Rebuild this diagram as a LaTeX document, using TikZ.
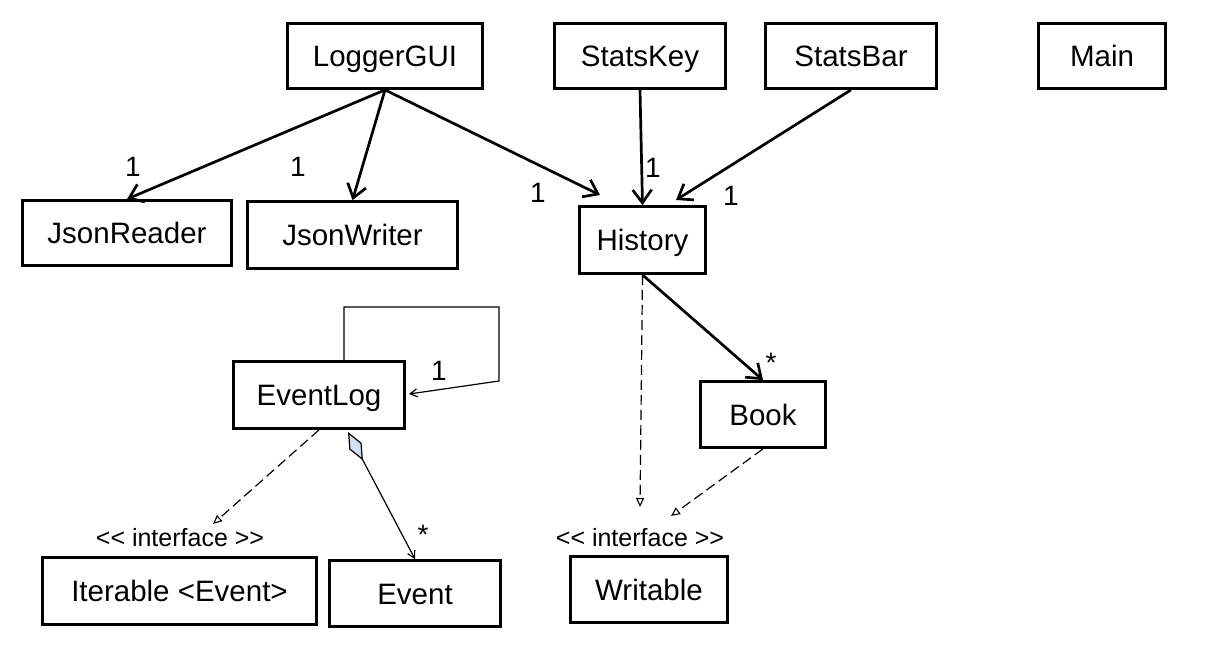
\documentclass[tikz,border=0pt]{standalone}
\usepackage{fontspec}
\setmainfont{Liberation Sans}
\usetikzlibrary{arrows.meta}
\definecolor{dblue}{RGB}{211,224,241}
\tikzset{
  cls/.style={draw, rectangle, line width=2.8pt, inner sep=0pt,
    text height=21pt, text depth=0pt, font=\fontsize{29.5}{30}\selectfont},
  lab/.style={anchor=base, inner sep=0pt, font=\fontsize{28}{28}\selectfont},
  stereo/.style={anchor=base, inner sep=0pt, font=\fontsize{25}{25}\selectfont},
  assoc/.style={line width=2.7pt, -{Straight Barb[length=13pt,width=19pt]}},
  realize/.style={line width=1.2pt, dash pattern=on 10pt off 5pt,
    -{Triangle[open,length=9pt,width=8pt,line width=1.1pt]}},
  thinarrow/.style={line width=1.2pt, -{Straight Barb[length=7pt,width=8pt]}},
  comp/.style={line width=1.2pt,
    {Diamond[fill=dblue,length=32pt,width=14pt]}-{Straight Barb[length=7pt,width=8pt]}}
}
\begin{document}
\begin{tikzpicture}[x=1pt,y=-1pt]
\useasboundingbox (0,0) rectangle (1208,666);
\fill[white] (0,0) rectangle (1208,666);

% class boxes
\node[cls, minimum width=195pt, minimum height=65pt] (LG) at (385,56) {LoggerGUI};
\node[cls, minimum width=171pt, minimum height=65pt] (SK) at (640,56) {StatsKey};
\node[cls, minimum width=171pt, minimum height=65pt] (SB) at (851,56) {StatsBar};
\node[cls, minimum width=127pt, minimum height=65pt] (MN) at (1102,56) {Main};
\node[cls, minimum width=209pt, minimum height=65pt] (JR) at (127,233) {JsonReader};
\node[cls, minimum width=210pt, minimum height=67pt] (JW) at (352.5,235) {JsonWriter};
\node[cls, minimum width=126pt, minimum height=67pt] (H) at (642.5,240) {History};
\node[cls, minimum width=171pt, minimum height=67pt] (EL) at (319,395) {EventLog};
\node[cls, minimum width=125pt, minimum height=66pt] (BK) at (763,414.5) {Book};
\node[cls, minimum width=274pt, minimum height=67pt] (IT) at (179.5,591) {Iterable <Event>};
\node[cls, minimum width=171pt, minimum height=66pt] (EV) at (415,593.5) {Event};
\node[cls, minimum width=157pt, minimum height=66pt] (WR) at (649,589.5) {Writable};

% stereotypes
\node[stereo] (st1) at (180,546) {<{}< interface >{}>};
\node[stereo] (st2) at (640,546) {<{}< interface >{}>};

% free ends
\coordinate (hL) at (600,195);
\coordinate (hR) at (676,200);
\coordinate (w1) at (640,507);
\coordinate (w2) at (671,516);
\coordinate (i1) at (213,524);
\coordinate (lp1) at (499,307);
\coordinate (lp2) at (499,381);
\coordinate (elin) at (409,394);
\coordinate (dtop) at (348,432);

% associations
\draw[assoc] (LG.south) -- (JR.north);
\draw[assoc] (LG.south) -- (JW.north);
\draw[assoc] (LG.south) -- (hL);
\draw[assoc] (SK.south) -- (H.north);
\draw[assoc] (SB.south) -- (hR);
\draw[assoc] (H.south) -- (BK.north);

% realizations
\draw[realize] (H.south) -- (w1);
\draw[realize] (BK.south) -- (w2);
\draw[realize] (EL.south) -- (i1);

% self association
\draw[thinarrow] ([xshift=25pt]EL.north) |- (lp1) -- (lp2) -- (elin);

% composition
\draw[comp] (dtop) -- (EV.north);

% multiplicities
\node[lab] (m1) at (133,177) {1};
\node[lab] (m2) at (298,177) {1};
\node[lab] (m3) at (538,202) {1};
\node[lab] (m4) at (653,178) {1};
\node[lab] (m5) at (731,205) {1};
\node[lab] (m6) at (439,380) {1};
\node[lab] (m7) at (423,544) {*};
\node[lab] (m8) at (771,372) {*};
\end{tikzpicture}
\end{document}
